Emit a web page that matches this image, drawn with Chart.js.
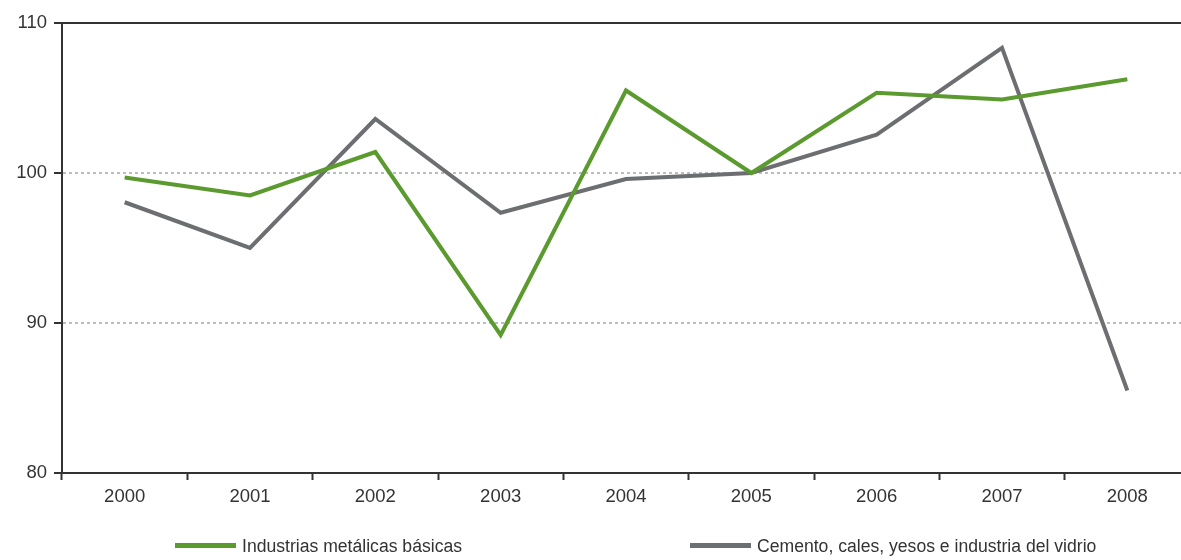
<!DOCTYPE html>
<html>
<head>
<meta charset="utf-8">
<script src="https://cdn.jsdelivr.net/npm/chart.js@4/dist/chart.umd.min.js"></script>
<style>
  html, body { margin: 0; padding: 0; background: #fff; overflow: hidden; }
  #wrap { position: relative; width: 1181px; height: 560px; overflow: hidden; }
  #box { position: absolute; left: 0; top: 0; width: 1192px; height: 560px; }
  .leg { position: absolute; top: 536px; font: 17.6px "Liberation Sans", Arial, sans-serif; color: #333; white-space: nowrap; }
  .leg span { display: inline-block; width: 61px; height: 5px; vertical-align: middle; margin-right: 6px; position: relative; top: -2px; }
</style>
</head>
<body>
<div id="wrap">
  <div id="box"><canvas id="chart"></canvas></div>
  <div class="leg" id="leg0" style="left:175px"></div>
  <div class="leg" id="leg1" style="left:690px"></div>
</div>
<script>
const years = ["2000", "2001", "2002", "2003", "2004", "2005", "2006", "2007", "2008"];
const metalicas = [99.7, 98.5, 101.4, 89.2, 105.5, 100.0, 105.35, 104.9, 106.25];
const cemento = [98.05, 95.0, 103.6, 97.35, 99.6, 100.0, 102.55, 108.35, 85.5];
const seriesNames = ["Industrias metálicas básicas", "Cemento, cales, yesos e industria del vidrio"];
const seriesColors = ["#5b9a2f", "#6d6e71"];
const yTicks = [80, 90, 100, 110];

const font = { family: "'Liberation Sans', Arial, sans-serif", size: 18.5 };

seriesNames.forEach((name, i) => {
  document.getElementById("leg" + i).innerHTML =
    `<span style="background:${seriesColors[i]}"></span>${name}`;
});

new Chart(document.getElementById("chart"), {
  type: "line",
  data: {
    labels: years,
    datasets: [
      { label: seriesNames[0], data: metalicas, borderColor: seriesColors[0], borderWidth: 4, pointRadius: 0, tension: 0 },
      { label: seriesNames[1], data: cemento, borderColor: seriesColors[1], borderWidth: 4, pointRadius: 0, tension: 0 },
    ],
  },
  options: {
    responsive: true,
    maintainAspectRatio: false,
    animation: false,
    layout: { padding: { top: 23, right: 2, left: 0, bottom: 0 } },
    plugins: { legend: { display: false }, tooltip: { enabled: false } },
    scales: {
      x: {
        offset: true,
        grid: { offset: true, drawOnChartArea: false, tickLength: 7, tickColor: "#333", tickWidth: 2 },
        border: { color: "#333", width: 2 },
        ticks: { color: "#333", font: font, padding: 6 },
        afterFit: (scale) => { scale.height = 87; },
      },
      xTop: {
        position: "top",
        grid: { display: false, drawTicks: false },
        border: { color: "#333", width: 2 },
        ticks: { display: false },
        afterFit: (scale) => { scale.height = 0; },
      },
      y: {
        min: 80,
        max: 110,
        afterBuildTicks: (scale) => { scale.ticks = yTicks.map((v) => ({ value: v })); },
        grid: {
          color: (ctx) => (ctx.tick && (ctx.tick.value === 80 || ctx.tick.value === 110) ? "rgba(0,0,0,0)" : "#bdbdbd"),
          lineWidth: 2,
          tickLength: 8,
          tickColor: "#333",
          tickWidth: 2,
          tickBorderDash: [],
        },
        border: { color: "#333", width: 2, dash: [3, 3] },
        ticks: { color: "#333", font: font, padding: 7 },
        afterFit: (scale) => { scale.width = 62; },
      },
    },
  },
});
</script>
</body>
</html>
